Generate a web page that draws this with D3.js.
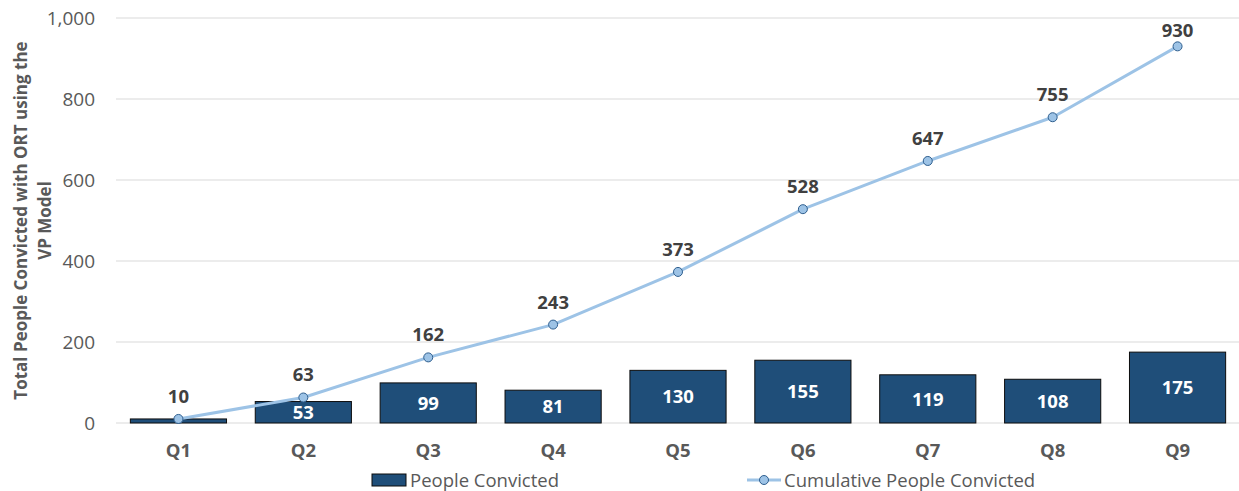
<!DOCTYPE html>
<html lang="en">
<head>
<meta charset="utf-8">
<title>People Convicted</title>
<script src="https://d3js.org/d3.v7.min.js"></script>
<style>
  body { margin: 0; background: #fff; }
  text { font-family: "Open Sans", "Liberation Sans", sans-serif; }
</style>
</head>
<body>
<script>
var w = 1239, h = 491;
var margin = {top: 18, right: 0, bottom: 68, left: 116};

var quarters = ["Q1", "Q2", "Q3", "Q4", "Q5", "Q6", "Q7", "Q8", "Q9"];
var convicted = [10, 53, 99, 81, 130, 155, 119, 108, 175];
var cumulative = [10, 63, 162, 243, 373, 528, 647, 755, 930];
var yTicks = [0, 200, 400, 600, 800, 1000];

var barColor = "#1f4e79";
var lineColor = "#9dc3e6";
var textGray = "#595959";
var fs = 18.5;

var svg = d3.select("body").append("svg")
    .attr("width", w)
    .attr("height", h);

var x = d3.scaleBand()
    .domain(quarters)
    .range([margin.left, w + 1])
    .paddingInner(0.23)
    .paddingOuter(0.115);

var y = d3.scaleLinear()
    .domain([0, 1000])
    .range([h - margin.bottom, margin.top]);

var cx = function(i) { return x(quarters[i]) + x.bandwidth() / 2; };

// gridlines
svg.append("g")
  .selectAll("line")
  .data(yTicks)
  .join("line")
    .attr("x1", margin.left)
    .attr("x2", w)
    .attr("y1", function(d) { return y(d); })
    .attr("y2", function(d) { return y(d); })
    .attr("stroke", "#d9d9d9")
    .attr("stroke-width", 1);

// y axis tick labels
var yAxis = svg.append("g")
    .attr("transform", "translate(" + (margin.left - 18) + ",0)")
    .call(d3.axisLeft(y).tickValues(yTicks).tickSize(0).tickFormat(d3.format(",")));
yAxis.select(".domain").remove();
yAxis.selectAll("text")
    .attr("fill", textGray)
    .style("font-size", "19px")
    .style("font-family", "'Open Sans', sans-serif");

// x axis labels
var xAxis = svg.append("g")
    .attr("transform", "translate(0," + (h - margin.bottom) + ")")
    .call(d3.axisBottom(x).tickSize(0).tickPadding(21));
xAxis.select(".domain").remove();
xAxis.selectAll("text")
    .attr("fill", textGray)
    .style("font-size", fs + "px")
    .style("font-weight", "bold")
    .style("font-family", "'Open Sans', sans-serif");

// y axis title
var yTitle = svg.append("text")
    .attr("transform", "translate(27," + ((margin.top + h - margin.bottom) / 2) + ") rotate(-90)")
    .attr("text-anchor", "middle")
    .attr("fill", textGray)
    .style("font-size", "17px")
    .style("font-weight", "bold");
yTitle.append("tspan").attr("x", 0).attr("dy", 0).text("Total People Convicted with ORT using the");
yTitle.append("tspan").attr("x", 0).attr("dy", 24).text("VP Model");

// bars
svg.append("g")
  .selectAll("rect")
  .data(convicted)
  .join("rect")
    .attr("x", function(d, i) { return x(quarters[i]); })
    .attr("y", function(d) { return y(d); })
    .attr("width", x.bandwidth())
    .attr("height", function(d) { return y(0) - y(d); })
    .attr("fill", barColor)
    .attr("stroke", "#0d0d0d")
    .attr("stroke-width", 1);

// bar labels (the tiny Q1 bar has none)
svg.append("g")
  .selectAll("text")
  .data(d3.range(convicted.length).filter(function(i) { return y(0) - y(convicted[i]) > 12; }))
  .join("text")
    .attr("x", function(i) { return cx(i); })
    .attr("y", function(i) { return (y(convicted[i]) + y(0)) / 2; })
    .attr("dy", "0.36em")
    .attr("text-anchor", "middle")
    .attr("fill", "#fff")
    .style("font-size", fs + "px")
    .style("font-weight", "bold")
    .text(function(i) { return convicted[i]; });

// cumulative line
var line = d3.line()
    .x(function(d, i) { return cx(i); })
    .y(function(d) { return y(d); });

svg.append("path")
    .datum(cumulative)
    .attr("fill", "none")
    .attr("stroke", lineColor)
    .attr("stroke-width", 3)
    .attr("stroke-linejoin", "round")
    .attr("d", line);

svg.append("g")
  .selectAll("circle")
  .data(cumulative)
  .join("circle")
    .attr("cx", function(d, i) { return cx(i); })
    .attr("cy", function(d) { return y(d); })
    .attr("r", 4.5)
    .attr("fill", lineColor)
    .attr("stroke", "#2f5f8f")
    .attr("stroke-width", 1);

svg.append("g")
  .selectAll("text")
  .data(cumulative)
  .join("text")
    .attr("x", function(d, i) { return cx(i); })
    .attr("y", function(d) { return Math.max(y(d) - 16, 37); })
    .attr("text-anchor", "middle")
    .attr("fill", "#404040")
    .style("font-size", fs + "px")
    .style("font-weight", "bold")
    .text(function(d) { return d; });

// legend
var leg = svg.append("g").attr("transform", "translate(0,480)");
leg.append("rect")
    .attr("x", 372).attr("y", -6)
    .attr("width", 34).attr("height", 12)
    .attr("fill", barColor)
    .attr("stroke", "#0d0d0d");
leg.append("text")
    .attr("x", 410).attr("y", 0).attr("dy", "0.36em")
    .attr("fill", textGray)
    .style("font-size", fs + "px")
    .text("People Convicted");
leg.append("line")
    .attr("x1", 747).attr("x2", 781)
    .attr("stroke", lineColor).attr("stroke-width", 3);
leg.append("circle")
    .attr("cx", 764).attr("r", 4.5)
    .attr("fill", lineColor).attr("stroke", "#2f5f8f");
leg.append("text")
    .attr("x", 784).attr("y", 0).attr("dy", "0.36em")
    .attr("fill", textGray)
    .style("font-size", fs + "px")
    .text("Cumulative People Convicted");
</script>
</body>
</html>
